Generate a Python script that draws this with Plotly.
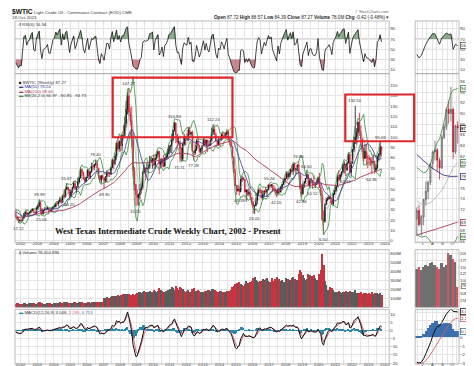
import numpy as np
import pandas as pd
import plotly.graph_objects as go

W, H = 474, 366

# ---------------- data (read from the chart / estimated) ----------------
# monthly closes used only to warm up the long averages (Jan 1998 - Aug 2001)
warmup_close = [
    17.21, 15.44, 15.61, 15.39, 15.20, 14.18, 14.21, 13.34, 16.14, 14.42, 11.22, 12.05,
    12.75, 12.27, 16.76, 18.66, 16.84, 19.29, 20.53, 22.10, 24.51, 21.75, 24.59, 25.60,
    27.64, 30.43, 26.90, 25.74, 29.01, 32.50, 27.43, 33.12, 30.84, 32.70, 34.40, 26.80,
    28.66, 27.39, 26.29, 28.46, 28.37, 26.25, 26.35, 27.20,
]
# monthly bars Sep 2001 - Oct 2023
month_close = [
    23.43, 21.18, 19.44, 19.84,
    19.48, 21.74, 26.31, 27.29, 25.31, 26.86, 27.02, 28.98, 30.45, 27.22, 26.89, 31.20,
    33.51, 36.60, 31.04, 25.80, 29.56, 30.19, 30.54, 31.57, 29.20, 29.11, 30.41, 32.52,
    33.05, 36.16, 35.76, 37.38, 39.88, 37.05, 43.80, 42.12, 49.64, 51.76, 49.13, 43.45,
    48.20, 51.75, 55.40, 49.72, 51.97, 56.50, 60.57, 68.94, 66.24, 59.76, 57.32, 61.04,
    67.92, 61.41, 66.63, 71.88, 71.29, 73.93, 74.40, 70.26, 62.91, 58.73, 62.97, 61.05,
    58.14, 61.79, 65.87, 65.71, 64.01, 70.68, 78.21, 74.04, 81.66, 94.53, 88.71, 95.98,
    91.75, 101.84, 101.58, 113.46, 127.35, 140.00, 124.08, 115.46, 100.64, 67.81, 54.43, 44.60,
    41.68, 44.76, 49.66, 51.12, 66.31, 69.89, 69.45, 69.96, 70.61, 77.00, 77.28, 79.36,
    72.89, 79.66, 83.76, 86.15, 73.97, 75.63, 78.95, 71.92, 79.97, 81.43, 84.11, 91.38,
    92.19, 96.97, 106.72, 113.93, 102.70, 95.42, 95.70, 88.81, 79.20, 93.19, 100.36, 98.83,
    98.48, 107.07, 103.02, 104.87, 86.53, 84.96, 88.06, 96.47, 92.19, 86.24, 88.91, 91.82,
    97.49, 92.05, 97.23, 93.46, 91.97, 96.56, 105.03, 107.65, 102.33, 96.38, 92.72, 98.42,
    97.49, 102.59, 101.58, 99.74, 102.71, 105.37, 98.17, 95.96, 91.16, 80.54, 66.15, 53.27,
    48.24, 49.76, 47.60, 59.63, 60.30, 59.47, 47.12, 49.20, 45.09, 46.59, 41.65, 37.04,
    33.62, 33.75, 38.34, 45.92, 49.10, 48.33, 41.60, 44.70, 48.24, 46.86, 49.44, 53.72,
    52.81, 54.01, 50.60, 49.33, 48.32, 46.04, 50.17, 47.23, 51.67, 54.38, 57.40, 60.42,
    64.73, 61.64, 64.94, 68.57, 67.04, 74.15, 68.76, 69.80, 73.25, 65.31, 50.93, 45.41,
    53.79, 57.22, 60.14, 63.91, 53.50, 58.47, 58.58, 55.10, 54.07, 54.18, 55.17, 61.06,
    51.56, 44.76, 20.48, 18.84, 35.49, 39.27, 40.27, 42.61, 40.22, 35.79, 45.34, 48.52,
    52.20, 61.50, 59.16, 63.58, 66.32, 73.47, 73.95, 68.50, 75.03, 83.57, 66.18, 75.21,
    88.15, 95.72, 100.28, 104.69, 114.67, 105.76, 98.62, 89.55, 79.49, 86.53, 80.55, 80.26,
    78.87, 77.05, 75.67, 76.78, 68.09, 70.64, 81.80, 83.63, 90.79, 87.27,
]
month_high = [
    31.0, 23.6, 22.5, 20.5,
    21.2, 21.9, 26.7, 28.4, 29.4, 27.0, 28.0, 29.9, 31.0, 30.9, 27.4, 32.7,
    34.7, 39.99, 38.8, 30.4, 30.0, 32.4, 32.4, 32.8, 30.3, 31.7, 32.0, 33.4,
    35.3, 36.4, 38.4, 38.5, 42.45, 40.2, 44.3, 49.4, 50.5, 55.67, 51.5, 49.7,
    49.6, 52.1, 57.6, 58.3, 52.9, 60.95, 62.1, 70.85, 69.8, 66.6, 61.9, 61.9,
    69.2, 68.0, 67.0, 75.35, 74.0, 74.0, 78.40, 77.75, 70.3, 62.3, 63.0, 64.2,
    61.1, 62.3, 68.1, 66.9, 66.5, 70.8, 78.8, 78.8, 84.1, 94.7, 99.29, 97.0,
    100.09, 103.0, 111.8, 119.9, 135.09, 143.67, 147.27, 128.6, 130.0, 104.0, 71.1, 53.8,
    49.8, 45.5, 54.7, 53.9, 66.8, 73.38, 71.0, 75.0, 72.9, 82.0, 81.5, 80.0,
    83.95, 80.5, 83.9, 87.15, 87.0, 79.2, 79.9, 82.9, 80.2, 84.4, 88.6, 92.0,
    92.6, 103.4, 107.0, 114.83, 113.7, 102.6, 100.0, 95.3, 90.5, 94.6, 103.4, 101.5,
    103.7, 109.8, 110.5, 105.3, 106.4, 86.2, 92.9, 98.3, 100.4, 92.7, 89.9, 91.9,
    98.2, 98.2, 97.7, 97.8, 97.0, 99.0, 109.3, 112.24, 110.7, 104.4, 95.4, 100.7,
    98.8, 103.8, 105.2, 104.9, 104.3, 107.7, 106.6, 98.9, 95.6, 91.5, 81.7, 69.4,
    54.0, 54.2, 52.5, 59.9, 62.6, 61.8, 59.7, 49.3, 49.3, 50.9, 48.4, 42.1,
    38.4, 34.8, 41.9, 46.8, 50.2, 51.67, 49.0, 48.8, 48.3, 51.93, 49.9, 54.5,
    55.24, 54.9, 54.7, 53.8, 52.0, 49.0, 50.4, 50.2, 52.9, 54.9, 59.0, 60.5,
    66.66, 66.3, 66.6, 69.6, 72.9, 74.5, 75.3, 70.4, 73.8, 76.90, 65.5, 54.6,
    55.8, 57.8, 60.7, 66.60, 63.8, 59.9, 60.9, 58.6, 63.4, 56.9, 58.7, 61.9,
    65.65, 54.7, 48.7, 29.1, 35.6, 41.6, 42.5, 43.8, 43.6, 41.9, 46.3, 49.3,
    53.9, 63.8, 67.98, 64.7, 67.0, 74.5, 76.98, 74.0, 76.7, 85.41, 84.3, 76.9,
    88.8, 100.5, 130.50, 108.9, 115.2, 123.68, 111.5, 97.7, 90.4, 93.6, 93.7, 83.3,
    82.6, 80.6, 80.9, 83.5, 77.0, 74.0, 82.0, 84.9, 95.03, 91.1,
]
month_low = [
    21.5, 20.0, 17.12, 17.9,
    17.9, 19.5, 21.6, 23.9, 24.9, 24.0, 25.9, 26.4, 28.6, 26.7, 25.1, 26.5,
    30.0, 32.5, 26.8, 25.06, 25.6, 29.0, 29.8, 30.5, 25.5, 28.6, 28.3, 30.7,
    32.5, 32.3, 34.8, 33.3, 37.3, 35.4, 37.1, 41.5, 42.0, 49.4, 45.1, 40.25,
    42.1, 45.8, 50.8, 49.3, 46.2, 51.0, 55.6, 60.2, 62.5, 59.0, 55.8, 57.3,
    61.0, 59.2, 59.8, 66.0, 68.4, 68.3, 72.5, 69.0, 59.5, 56.5, 55.3, 60.0,
    49.90, 56.2, 56.6, 61.9, 61.5, 64.2, 70.2, 69.0, 73.9, 78.4, 87.0, 86.0,
    86.1, 86.8, 98.6, 100.5, 109.4, 122.0, 120.4, 111.3, 90.5, 61.3, 48.2, 33.55,
    33.98, 34.0, 40.0, 45.6, 49.3, 64.6, 58.3, 66.0, 65.1, 69.5, 75.2, 69.5,
    72.4, 69.5, 78.5, 81.0, 64.2, 70.5, 71.0, 70.8, 72.6, 79.0, 80.1, 85.5,
    85.1, 84.4, 96.9, 105.5, 94.6, 89.6, 93.0, 75.71, 77.1, 76.5, 91.8, 92.5,
    97.2, 96.1, 102.0, 100.7, 86.0, 77.28, 82.9, 86.9, 89.6, 84.9, 84.1, 85.1,
    91.7, 90.9, 89.3, 85.6, 91.0, 91.9, 95.9, 102.2, 101.9, 95.7, 91.8, 91.9,
    91.2, 96.8, 97.4, 98.8, 98.6, 101.9, 97.2, 92.5, 90.4, 79.8, 65.7, 52.7,
    44.2, 47.4, 43.58, 46.7, 56.5, 58.0, 46.7, 37.75, 43.2, 43.1, 39.9, 34.5,
    26.19, 26.05, 33.4, 35.2, 43.0, 45.8, 40.6, 39.2, 42.5, 46.1, 42.2, 49.9,
    50.7, 51.2, 47.1, 48.2, 43.8, 42.05, 43.6, 45.6, 46.5, 49.1, 53.9, 56.1,
    59.9, 58.1, 59.9, 61.8, 66.0, 63.6, 67.0, 64.4, 67.1, 64.9, 49.4, 42.36,
    44.4, 51.2, 55.3, 60.1, 53.0, 50.6, 55.3, 50.52, 52.8, 50.99, 54.3, 55.4,
    51.3, 43.3, 19.3, 6.50, 17.3, 34.4, 38.6, 40.6, 36.1, 34.9, 33.6, 44.2,
    47.2, 51.6, 57.3, 57.6, 61.6, 65.0, 65.0, 62.43, 67.6, 74.9, 64.4, 62.5,
    74.3, 85.7, 93.5, 92.9, 98.2, 101.5, 90.6, 85.7, 76.25, 79.3, 73.6, 70.08,
    72.5, 72.3, 64.36, 74.8, 64.6, 66.8, 69.0, 77.6, 79.6, 81.5,
]
# average weekly volume per month, millions
month_volume_m = [
    45, 48, 50, 42,
    44, 46, 50, 48, 45, 43, 47, 49, 52, 50, 46, 44,
    52, 58, 60, 50, 46, 45, 44, 47, 50, 48, 46, 45,
    50, 52, 55, 53, 58, 52, 55, 60, 58, 62, 55, 52,
    55, 57, 60, 58, 54, 56, 58, 62, 60, 56, 55, 52,
    58, 60, 57, 62, 60, 58, 62, 60, 63, 65, 62, 60,
    105, 110, 115, 108, 112, 118, 125, 130, 128, 135, 140, 125,
    145, 140, 150, 148, 155, 150, 148, 140, 145, 150, 140, 155,
    160, 170, 175, 168, 180, 185, 178, 172, 175, 190, 180, 170,
    195, 185, 175, 190, 220, 200, 185, 180, 178, 190, 200, 185,
    210, 230, 220, 200, 240, 215, 195, 230, 215, 205, 190, 170,
    185, 195, 180, 175, 210, 220, 190, 185, 200, 185, 170, 165,
    180, 190, 185, 200, 195, 185, 210, 205, 195, 190, 180, 170,
    185, 190, 180, 175, 170, 185, 190, 185, 200, 230, 240, 260,
    280, 270, 290, 265, 250, 240, 270, 300, 280, 270, 285, 300,
    330, 340, 310, 300, 290, 295, 300, 320, 310, 320, 330, 300,
    290, 280, 330, 300, 320, 340, 310, 320, 300, 310, 290, 280,
    330, 320, 300, 310, 330, 340, 320, 300, 310, 380, 420, 400,
    360, 330, 310, 320, 380, 360, 340, 350, 370, 330, 310, 300,
    380, 420, 600, 480, 300, 250, 200, 190, 230, 220, 200, 180,
    175, 180, 190, 170, 165, 175, 180, 185, 170, 175, 190, 170,
    170, 180, 200, 160, 150, 165, 170, 155, 160, 150, 160, 155,
    160, 150, 180, 155, 165, 150, 160, 150, 165, 140,
]

# peak / trough labels on the main chart
label_months = ["2001-11", "2003-02", "2003-04", "2004-10", "2004-12", "2006-07", "2007-01",
                "2008-07", "2008-12", "2011-04", "2011-08", "2012-06", "2013-08", "2015-03",
                "2016-02", "2017-01", "2017-06", "2018-10", "2018-12", "2019-04", "2019-08",
                "2020-04", "2021-08", "2022-03", "2023-03", "2023-09"]
label_values = [17.12, 39.99, 25.06, 55.67, 40.25, 78.40, 49.90, 147.27, 33.55, 114.83, 75.71,
                77.28, 112.24, 43.58, 26.05, 55.24, 42.05, 76.90, 42.36, 66.60, 50.52, 6.50,
                62.43, 130.50, 64.36, 95.03]
label_above = [0, 1, 0, 1, 0, 1, 0, 1, 0, 1, 0, 0, 1, 0, 0, 1, 0, 1, 0, 1, 0, 0, 0, 1, 0, 1]

# right-hand detail panel: weekly bars, Jun - Oct 2023
week_dates = ["2023-06-14", "2023-06-21", "2023-06-28", "2023-07-05", "2023-07-12", "2023-07-19",
              "2023-07-26", "2023-08-02", "2023-08-09", "2023-08-16", "2023-08-23", "2023-08-30",
              "2023-09-06", "2023-09-13", "2023-09-20", "2023-09-27", "2023-10-04", "2023-10-11",
              "2023-10-18"]
week_open = [70.2, 71.8, 69.2, 70.6, 73.9, 75.4, 77.1, 80.6, 82.8, 83.2, 81.2, 79.8, 85.5, 87.5,
             90.8, 90.0, 90.8, 82.8, 87.72]
week_high = [72.4, 72.9, 71.0, 74.0, 77.3, 77.4, 80.6, 83.0, 84.9, 83.5, 81.7, 86.0, 88.1, 91.2,
             92.4, 95.03, 91.1, 87.8, 88.57]
week_low = [67.0, 68.8, 67.1, 69.0, 72.7, 73.9, 76.6, 79.5, 81.2, 79.0, 77.6, 79.6, 85.2, 86.9,
            88.1, 88.5, 81.5, 82.4, 84.39]
week_close = [71.78, 69.16, 70.64, 73.86, 75.42, 77.07, 80.58, 82.82, 83.19, 81.25, 79.83, 85.55,
              87.51, 90.77, 90.03, 90.79, 82.79, 87.69, 87.27]
week_volume = [145, 150, 140, 150, 160, 155, 165, 170, 160, 150, 145, 165, 150, 160, 205, 195,
               180, 170, 78.004896]
week_ma50 = [82.3, 81.9, 81.5, 81.1, 80.7, 80.3, 80.0, 79.7, 79.4, 79.1, 78.8, 78.6, 78.4, 78.3,
             78.25, 78.2, 78.2, 78.2, 78.24]
week_ma200 = [67.2, 67.35, 67.5, 67.6, 67.75, 67.85, 68.0, 68.1, 68.25, 68.4, 68.5, 68.65, 68.8,
              68.95, 69.1, 69.25, 69.4, 69.5, 69.64]
week_bb_up = [79.8, 79.6, 79.2, 78.9, 79.0, 79.6, 80.6, 82.0, 83.6, 84.6, 85.2, 86.6, 88.4, 90.6,
              92.0, 93.8, 94.4, 94.5, 94.73]
week_bb_lo = [67.4, 67.0, 66.8, 66.9, 67.0, 66.6, 65.9, 65.3, 64.7, 64.5, 64.8, 64.6, 64.2, 63.8,
              63.9, 64.3, 65.2, 66.2, 66.97]
week_rsi = [40, 33, 38, 50, 60, 68, 76, 81, 80, 68, 60, 72, 78, 82, 79, 80, 50, 60, 56.94]
week_macd = [-2.9, -3.0, -2.9, -2.5, -1.9, -1.3, -0.6, 0.2, 0.9, 1.3, 1.4, 1.8, 2.3, 2.8, 3.1,
             3.4, 3.1, 3.05, 3.048]
week_signal = [-3.1, -3.1, -3.05, -2.95, -2.7, -2.4, -2.0, -1.55, -1.05, -0.6, -0.2, 0.2, 0.6,
               1.05, 1.45, 1.85, 2.1, 2.25, 2.295]

small_month_ticks = ["2023-07-01", "2023-08-01", "2023-09-01", "2023-10-01"]
small_month_text = ["J", "A", "S", "O"]

# ---------------- derived series ----------------
n_warm = len(warmup_close)
idx = pd.date_range("1998-01-01", periods=n_warm + len(month_close), freq="MS") + pd.Timedelta(days=14)
px_all = pd.Series(warmup_close + month_close, index=idx)

ma50 = px_all.rolling(12).mean()
ma200 = px_all.rolling(46).mean()
bb_mid = px_all.rolling(5).mean()
bb_sd = px_all.rolling(5).std(ddof=0)
bb_up = bb_mid + 2 * bb_sd
bb_lo = bb_mid - 2 * bb_sd

dlt = px_all.diff()
alpha = 1 / 4.0
au = dlt.clip(lower=0).ewm(alpha=alpha, adjust=False).mean()
ad = (-dlt.clip(upper=0)).ewm(alpha=alpha, adjust=False).mean()
rsi = 100 - 100 / (1 + au / ad)

macd = px_all.ewm(span=3.5, adjust=False).mean() - px_all.ewm(span=6.8, adjust=False).mean()
signal = macd.ewm(span=2.8, adjust=False).mean()
hist = macd - signal

sl = slice(n_warm, None)
d = idx[sl]
c = np.array(month_close)
o = px_all.shift(1).values[sl]
hi = np.maximum(np.array(month_high), np.maximum(o, c))
lo = np.minimum(np.array(month_low), np.minimum(o, c))
up_month = c >= o

wd = pd.to_datetime(week_dates)
wo, wc = np.array(week_open), np.array(week_close)
w_prev = np.concatenate([[week_open[0]], wc[:-1]])
w_up = wc >= w_prev
w_hist = np.array(week_macd) - np.array(week_signal)
w_bb_mid = (np.array(week_bb_up) + np.array(week_bb_lo)) / 2

# ---------------- style ----------------
FONT = "Liberation Sans, Arial, sans-serif"
GRID = "#e4e4e4"
FRAME = "#a9a9a9"
TXT = "#333333"
C_DN = "#d01f2e"
C_MA50 = "#3a3a90"
C_MA200 = "#a8385a"
C_BB = "#3a8a3e"
C_BBMID = "#a5a5a5"
C_VUP = "#5b5b5b"
C_VDN = "#c9333f"
C_SIG = "#d2606e"
C_HIST = "#2b87a9"
C_HIST_S = "#3c6fae"
C_HI = "rgba(64,120,64,0.6)"
C_LO = "rgba(170,55,65,0.6)"


def fx(p):
    return p / W


def fy(p):
    return 1 - p / H


fig = go.Figure()


def line(x, y, xa, ya, color, width=0.8, dash=None):
    fig.add_trace(go.Scatter(x=x, y=y, xaxis=xa, yaxis=ya, mode="lines",
                             line=dict(color=color, width=width, dash=dash),
                             hoverinfo="skip", showlegend=False))


def rsi_fill(x, vals, xa, ya):
    vals = np.asarray(vals, dtype=float)
    for lvl, fn, col in ((70.0, np.maximum, C_HI), (30.0, np.minimum, C_LO)):
        fig.add_trace(go.Scatter(x=x, y=np.full(len(vals), lvl), xaxis=xa, yaxis=ya, mode="lines",
                                 line=dict(width=0), hoverinfo="skip", showlegend=False))
        fig.add_trace(go.Scatter(x=x, y=fn(vals, lvl), xaxis=xa, yaxis=ya, mode="lines",
                                 line=dict(width=0), fill="tonexty", fillcolor=col,
                                 hoverinfo="skip", showlegend=False))
    line(x, vals, xa, ya, "#151515", 0.8)


# main RSI
rsi_fill(d, rsi.values[sl], "x", "y")
# main price
line(d, bb_up.values[sl], "x2", "y2", C_BB, 0.8)
line(d, bb_lo.values[sl], "x2", "y2", C_BB, 0.8)
line(d, bb_mid.values[sl], "x2", "y2", C_BBMID, 0.6)
line(d, ma200.values[sl], "x2", "y2", C_MA200, 0.9)
line(d, ma50.values[sl], "x2", "y2", C_MA50, 0.8)
fig.add_trace(go.Candlestick(x=d, open=o, high=hi, low=lo, close=c, xaxis="x2", yaxis="y2",
                             increasing=dict(line=dict(color="#111111", width=0.8), fillcolor="#111111"),
                             decreasing=dict(line=dict(color=C_DN, width=0.8), fillcolor=C_DN),
                             whiskerwidth=0, hoverinfo="skip", showlegend=False))
# main volume
fig.add_trace(go.Bar(x=d, y=month_volume_m, xaxis="x3", yaxis="y3",
                     marker=dict(color=[C_VUP if u else C_VDN for u in up_month], line=dict(width=0)),
                     width=24 * 86400000, hoverinfo="skip", showlegend=False))
# main MACD
fig.add_trace(go.Bar(x=d, y=hist.values[sl], xaxis="x4", yaxis="y4",
                     marker=dict(color=C_HIST, line=dict(width=0)), width=31 * 86400000,
                     hoverinfo="skip", showlegend=False))
line(d, signal.values[sl], "x4", "y4", C_SIG, 0.9)
line(d, macd.values[sl], "x4", "y4", "#111111", 1.0)

# small RSI
rsi_fill(wd, week_rsi, "x5", "y5")
# small price
line(wd, week_bb_up, "x6", "y6", C_BB, 0.8)
line(wd, week_bb_lo, "x6", "y6", C_BB, 0.8)
line(wd, w_bb_mid, "x6", "y6", C_BBMID, 0.7)
line(wd, week_ma200, "x6", "y6", C_MA200, 0.9)
line(wd, week_ma50, "x6", "y6", C_MA50, 0.9)
fig.add_trace(go.Candlestick(x=wd, open=week_open, high=week_high, low=week_low, close=week_close,
                             xaxis="x6", yaxis="y6",
                             increasing=dict(line=dict(color="#555555", width=0.7), fillcolor="#c9c9c9"),
                             decreasing=dict(line=dict(color="#b01828", width=0.7), fillcolor=C_DN),
                             whiskerwidth=0, hoverinfo="skip", showlegend=False))
# small volume
fig.add_trace(go.Bar(x=wd, y=week_volume, xaxis="x7", yaxis="y7",
                     marker=dict(color=["#6f6f6f" if u else "#cf5560" for u in w_up], line=dict(width=0)),
                     width=5.4 * 86400000, hoverinfo="skip", showlegend=False))
# small MACD
fig.add_trace(go.Bar(x=wd, y=w_hist, xaxis="x8", yaxis="y8",
                     marker=dict(color=C_HIST_S, line=dict(width=0)), width=7 * 86400000,
                     hoverinfo="skip", showlegend=False))
line(wd, week_signal, "x8", "y8", C_SIG, 0.9)
line(wd, week_macd, "x8", "y8", "#111111", 1.0)

# ---------------- axes ----------------
main_x = [fx(7), fx(382)]
small_x = [fx(408), fx(452)]
main_range = ["2001-08-29", "2024-04-01"]
small_range = ["2023-06-09", "2023-10-22"]
rows = {  # (top px, bottom px)
    "rsi": (13, 66), "price": (66, 236), "vol": (243, 301), "macd": (303, 358)}

tickfont = dict(size=4.3, color=TXT, family=FONT)


def xax(domain, anchor, rng, labels, small):
    ax = dict(domain=domain, anchor=anchor, range=rng, type="date", showgrid=True, gridcolor=GRID,
              gridwidth=0.6, zeroline=False, showline=False, ticks="", tickfont=tickfont,
              showticklabels=labels, fixedrange=True, rangeslider=dict(visible=False),
              ticklabelstandoff=-3)
    if small:
        ax.update(tickmode="array", tickvals=small_month_ticks, ticktext=small_month_text,
                  minor=dict(showgrid=True, gridcolor=GRID, gridwidth=0.6, dtick="M1", tick0="2023-06-15"))
    else:
        ax.update(dtick="M12", tick0="2002-01-01", tickformat="%Y",
                  minor=dict(showgrid=True, gridcolor=GRID, gridwidth=0.6, dtick="M6", tick0="2002-01-01"))
    return ax


def yax(row, anchor, rng, tickvals, ticktext=None):
    top, bot = rows[row]
    ax = dict(domain=[fy(bot), fy(top)], anchor=anchor, range=rng, side="right", showgrid=True,
              gridcolor=GRID, gridwidth=0.6, zeroline=False, showline=False, ticks="",
              tickfont=tickfont, tickmode="array", tickvals=tickvals, fixedrange=True)
    if ticktext is not None:
        ax["ticktext"] = ticktext
    return ax


rsi_ticks = [10, 30, 50, 70, 90]
layout = dict(
    width=W, height=H, margin=dict(l=0, r=0, t=0, b=0), paper_bgcolor="white", plot_bgcolor="white",
    showlegend=False, bargap=0, font=dict(family=FONT, size=5, color=TXT),
    xaxis=xax(main_x, "y", main_range, False, False),
    xaxis2=xax(main_x, "y2", main_range, True, False),
    xaxis3=xax(main_x, "y3", main_range, False, False),
    xaxis4=xax(main_x, "y4", main_range, True, False),
    xaxis5=xax(small_x, "y5", small_range, False, True),
    xaxis6=xax(small_x, "y6", small_range, True, True),
    xaxis7=xax(small_x, "y7", small_range, False, True),
    xaxis8=xax(small_x, "y8", small_range, True, True),
    yaxis=yax("rsi", "x", [2.2, 105.6], rsi_ticks),
    yaxis2=yax("price", "x2", [-1.9, 161.5], list(range(0, 160, 10))),
    yaxis3=yax("vol", "x3", [0, 644], list(range(100, 700, 100)), [f"{v}M" for v in range(100, 700, 100)]),
    yaxis4=yax("macd", "x4", [-20.6, 13.06], [-20, -15, -10, -5, 0, 5, 10]),
    yaxis5=yax("rsi", "x5", [2.2, 105.6], rsi_ticks),
    yaxis6=yax("price", "x6", [65.76, 97.49], list(range(66, 98, 2))),
    yaxis7=yax("vol", "x7", [0, 214.8], list(range(25, 225, 25)), [f"{v}M" for v in range(25, 225, 25)]),
    yaxis8=yax("macd", "x8", [-3.12, 3.35], [-3, -2, -1, 0, 1, 2, 3]),
)
fig.update_layout(**layout)

# ---------------- frames, reference lines, highlight boxes ----------------
shapes = []
pairs = [("x", "y"), ("x2", "y2"), ("x3", "y3"), ("x4", "y4"),
         ("x5", "y5"), ("x6", "y6"), ("x7", "y7"), ("x8", "y8")]
for xa, ya in pairs:
    shapes.append(dict(type="rect", xref=f"{xa} domain", yref=f"{ya} domain", x0=0, x1=1, y0=0, y1=1,
                       line=dict(color=FRAME, width=0.8), layer="above"))
for xa, ya in (("x", "y"), ("x5", "y5")):
    for lvl in (70, 30):
        shapes.append(dict(type="line", xref=f"{xa} domain", yref=ya, x0=0, x1=1, y0=lvl, y1=lvl,
                           line=dict(color="#8a8a8a", width=0.8), layer="below"))
shapes.append(dict(type="line", xref="x5 domain", yref="y5", x0=0, x1=1, y0=50, y1=50,
                   line=dict(color="#9a9a9a", width=0.7, dash="dot"), layer="below"))
for xa, ya in (("x4", "y4"), ("x8", "y8")):
    shapes.append(dict(type="line", xref=f"{xa} domain", yref=ya, x0=0, x1=1, y0=0, y1=0,
                       line=dict(color="#6a8fb0", width=0.6, dash="dot"), layer="below"))
# red highlight boxes
shapes.append(dict(type="rect", xref="x2", yref="y2", x0="2007-07-23", x1="2014-10-15", y0=100, y1=157.7,
                   line=dict(color="#e0252c", width=2.2), layer="above"))
shapes.append(dict(type="rect", xref="paper", yref="paper", x0=fx(338), x1=fx(407), y0=fy(134), y1=fy(87),
                   line=dict(color="#e0252c", width=2.2), layer="above"))
fig.update_layout(shapes=shapes)

# ---------------- texts ----------------
ann = []


def t(x, y, text, size=4.5, color=TXT, anchor="left", family=FONT, **kw):
    ann.append(dict(xref="paper", yref="paper", x=fx(x), y=fy(y), text=text, showarrow=False,
                    xanchor=anchor, yanchor="middle", font=dict(size=size, color=color, family=family), **kw))


t(2, 4, "<b>$WTIC</b>", 6.6, "#111")
t(24, 4.5, "Light Crude Oil - Continuous Contract (EOD) CME", 4.4)
t(2, 10, "18-Oct-2023", 4.4)
t(384, 4, "© StockCharts.com", 3.9, "#666", "right")
chg = week_close[-1] - week_close[-2]
t(384, 10, (f"<b>Open</b> {week_open[-1]:.2f} <b>High</b> {week_high[-1]:.2f} "
            f"<b>Low</b> {week_low[-1]:.2f} <b>Close</b> {week_close[-1]:.2f} "
            f"<b>Volume</b> {week_volume[-1]:.1f}M <b>Chg</b> {chg:.2f} ({100 * chg / week_close[-2]:.2f}%) ▾"),
  4.6, "#222", "right")
t(8, 16.5, f"<b>⁄\\</b> RSI(6) {week_rsi[-1]:.2f}", 4.3)
t(9, 75, f"<span style='color:#111'>■</span> $WTIC (Weekly) {week_close[-1]:.2f}", 4.3)
t(9, 79.3, f"<span style='color:{C_MA50}'>▬ MA(50) {week_ma50[-1]:.2f}</span>", 4.3)
t(9, 83.6, f"<span style='color:{C_MA200}'>▬ MA(200) {week_ma200[-1]:.2f}</span>", 4.3)
t(9, 87.9, (f"<span style='color:{C_BB}'>▬</span> BB(20,2.0) {week_bb_lo[-1]:.2f} - "
            f"{w_bb_mid[-1]:.2f} - {week_bb_up[-1]:.2f}"), 4.3)
t(9, 246, f"<span style='color:#777'>▮</span> Volume {int(round(week_volume[-1] * 1e6)):,}", 4.3)
t(9, 306, (f"<span style='color:{C_HIST}'>▬</span> MACD(12,26,9) {week_macd[-1]:.3f}, "
            f"<span style='color:{C_SIG}'>{week_signal[-1]:.3f}</span>, "
            f"<span style='color:{C_HIST_S}'>{w_hist[-1]:.3f}</span>"), 4.3)
t(45, 224, "<b>West Texas Intermediate Crude Weekly Chart, 2002 - Present</b>", 8.6, "#111",
  family="Liberation Serif, Times New Roman, serif")

# peak / trough labels
for m, v, a in zip(label_months, label_values, label_above):
    ann.append(dict(xref="x2", yref="y2", x=pd.Timestamp(m + "-15"), y=v, text=f"{v:.2f}",
                    showarrow=False, xanchor="center", yanchor="bottom" if a else "top",
                    yshift=0.5 if a else -0.5, font=dict(size=4.3, color=TXT, family=FONT)))


# value boxes on the detail panel
def box(ya, val, text, col, bold=False, size=4.3, right=False):
    ann.append(dict(xref="paper", yref=ya, x=fx(473.5) if right else fx(452.5), y=val,
                    text=f"<b>{text}</b>" if bold else text,
                    showarrow=False, xanchor="right" if right else "left", yanchor="middle",
                    bgcolor="white", bordercolor=col, borderwidth=0.8, borderpad=0.3,
                    font=dict(size=size, color="#222", family=FONT)))


box("y5", week_rsi[-1], f"{week_rsi[-1]:.2f}", "#555")
box("y6", week_bb_up[-1], f"{week_bb_up[-1]:.2f}", C_BB)
box("y6", week_close[-1], f"{week_close[-1]:.2f}", "#222", True)
box("y6", w_bb_mid[-1], f"{w_bb_mid[-1]:.2f}", C_BB)
box("y6", week_ma50[-1], f"{week_ma50[-1]:.2f}", C_MA50)
box("y6", week_ma200[-1], f"{week_ma200[-1]:.2f}", C_MA200)
box("y6", week_bb_lo[-1], f"{week_bb_lo[-1]:.2f}", C_BB)
box("y7", week_volume[-1], f"{int(round(week_volume[-1] * 1e6)):,}", "#777", size=3.5, right=True)
box("y8", week_macd[-1], f"{week_macd[-1]:.3f}", "#222")
box("y8", week_signal[-1], f"{week_signal[-1]:.3f}", C_SIG)
box("y8", w_hist[-1], f"{w_hist[-1]:.3f}", C_HIST_S)

fig.update_layout(annotations=ann)
fig.write_html("out.html")
